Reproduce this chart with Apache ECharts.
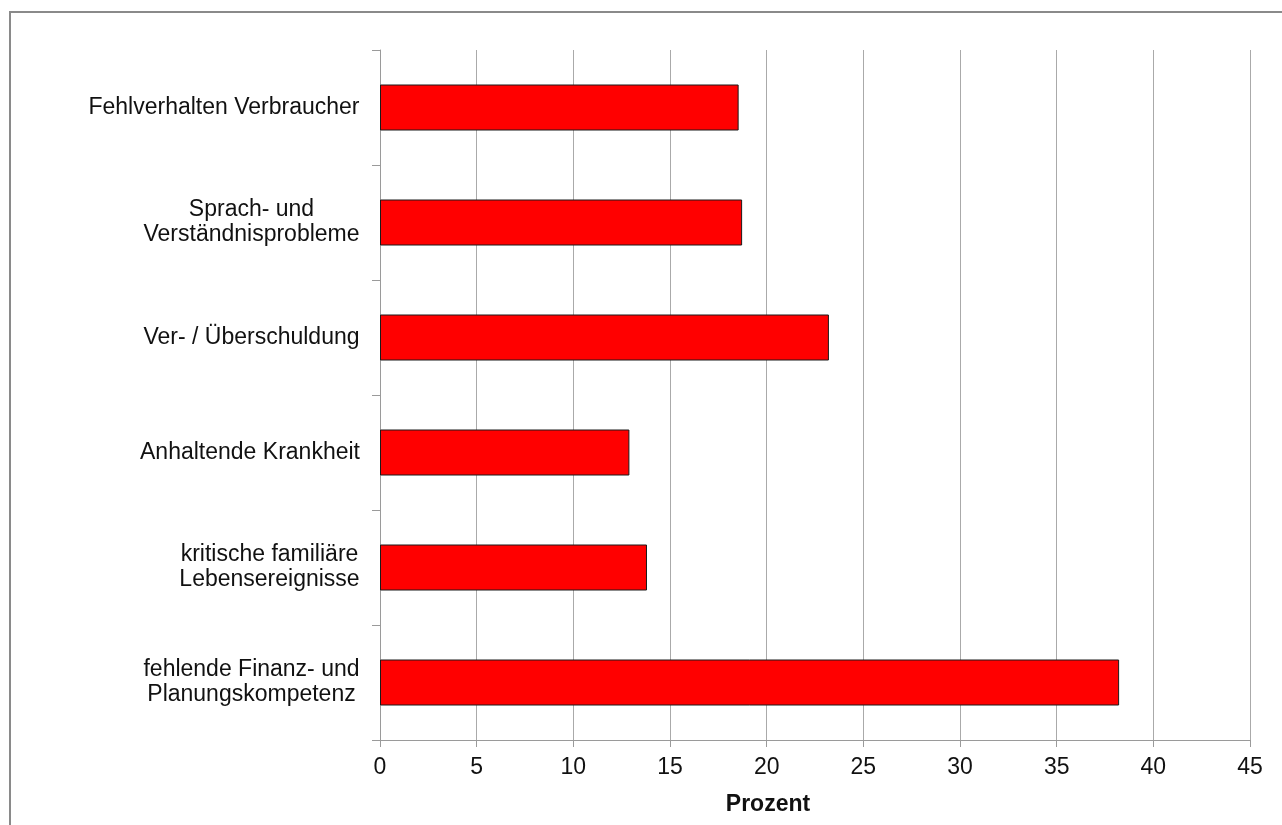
<!DOCTYPE html>
<html>
<head>
<meta charset="utf-8">
<script src="https://cdn.jsdelivr.net/npm/echarts@6/dist/echarts.min.js"></script>
<style>
html,body{margin:0;padding:0;background:#fff;}
#chart{width:1282px;height:825px;}
</style>
</head>
<body>
<div id="chart"></div>
<script>
const categories = [
  "Fehlverhalten Verbraucher",
  "Sprach- und\nVerständnisprobleme",
  "Ver- / Überschuldung",
  "Anhaltende Krankheit",
  "kritische familiäre\nLebensereignisse",
  "fehlende Finanz- und\nPlanungskompetenz"
];
const values = [18.55, 18.73, 23.22, 12.9, 13.81, 38.23];
const axisTitle = "Prozent";

const FONT = '"Liberation Sans", Arial, sans-serif';
const FS = 23;
const ctx = document.createElement('canvas').getContext('2d');
ctx.font = FS + 'px ' + FONT;
const rich = {};
categories.forEach((c, i) => {
  const lines = c.split('\n');
  const w = Math.max(...lines.map(l => ctx.measureText(l).width));
  rich['l' + i] = {width: Math.ceil(w), align: 'center', fontSize: FS, fontFamily: FONT, color: '#111', lineHeight: 25};
});

const chart = echarts.init(document.getElementById('chart'), null, {renderer: 'canvas'});
chart.setOption({
  animation: false,
  backgroundColor: '#ffffff',
  grid: {left: 380, top: 50, right: 32, bottom: 85, containLabel: false},
  xAxis: {
    type: 'value', min: 0, max: 45, interval: 5,
    axisLine: {show: true, lineStyle: {color: '#9a9a9a', width: 1}},
    axisTick: {show: true, length: 7, lineStyle: {color: '#9a9a9a'}},
    splitLine: {show: true, lineStyle: {color: '#aaaaaa', width: 1}},
    axisLabel: {color: '#111', fontSize: FS, fontFamily: FONT, margin: 16}
  },
  yAxis: {
    type: 'category', data: categories, inverse: true,
    axisLine: {show: true, lineStyle: {color: '#9a9a9a', width: 1}},
    axisTick: {show: true, length: 8, alignWithLabel: false, lineStyle: {color: '#9a9a9a'}},
    axisLabel: {
      color: '#111', fontSize: FS, fontFamily: FONT, margin: 20, align: 'right',
      formatter: (v, idx) => v.split('\n').map(l => '{l' + idx + '|' + l + '}').join('\n'),
      rich: rich
    }
  },
  series: [{
    type: 'bar', data: values, barWidth: '40%',
    itemStyle: {color: '#ff0000', borderColor: '#1a1a1a', borderWidth: 1}
  }],
  graphic: [
    {type: 'rect', x: 10, y: 12, shape: {x: 0, y: 0, width: 1300, height: 900},
     style: {fill: null, stroke: '#8a8a8a', lineWidth: 2}, silent: true, z: 100},
    {type: 'text', x: 768, y: 805, style: {text: axisTitle, fill: '#111', font: 'bold 23px ' + FONT, textAlign: 'center', textVerticalAlign: 'middle'}}
  ]
});
</script>
</body>
</html>
